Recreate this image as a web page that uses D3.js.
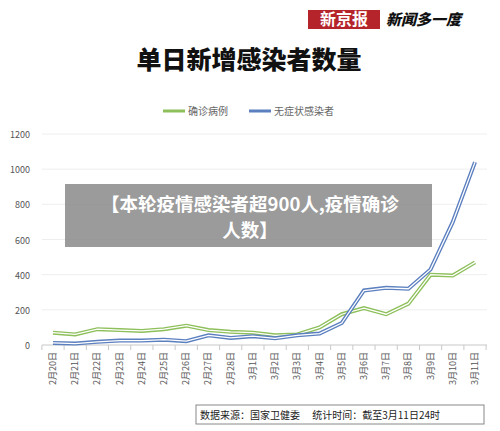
<!DOCTYPE html><html><head><meta charset="utf-8"><script src="https://cdn.jsdelivr.net/npm/d3@7"></script>
<style>body{margin:0;background:#fff}svg{font-family:"Noto Sans CJK SC",sans-serif}</style></head><body><svg width="500" height="431"></svg>
<script>
const categories=["2月20日","2月21日","2月22日","2月23日","2月24日","2月25日","2月26日","2月27日","2月28日","3月1日","3月2日","3月3日","3月4日","3月5日","3月6日","3月7日","3月8日","3月9日","3月10日","3月11日"];
const confirmed=[70,60,90,85,80,90,110,85,75,70,55,60,100,175,210,175,235,400,395,470];
const asymptomatic=[12,8,18,25,25,30,22,55,40,50,38,55,65,125,310,325,320,430,700,1040];
const yTicks=[0,200,400,600,800,1000,1200];
const svg=d3.select("svg");
const x=d3.scalePoint().domain(categories).range([53,475]);
const y=d3.scaleLinear().domain([0,1200]).range([345,134]);
svg.append("g").selectAll("line").data(yTicks.slice(1)).join("line").attr("x1",42).attr("x2",487).attr("y1",d=>y(d)).attr("y2",d=>y(d)).attr("stroke","#eeeeee");
svg.append("line").attr("x1",42).attr("x2",487).attr("y1",345).attr("y2",345).attr("stroke","#c8c8c8");
const step=x.step();
svg.append("g").selectAll("line").data(d3.range(categories.length+1)).join("line").attr("x1",d=>53-step/2+d*step).attr("x2",d=>53-step/2+d*step).attr("y1",345).attr("y2",350).attr("stroke","#c8c8c8");
svg.append("g").selectAll("text").data(yTicks).join("text").attr("x",30).attr("y",d=>y(d)+4).attr("text-anchor","end").attr("font-size",9).attr("fill","#555").text(d=>d);
svg.append("g").selectAll("text").data(categories).join("text").attr("transform",d=>`translate(${x(d)+3},${352}) rotate(-90)`).attr("text-anchor","end").attr("font-size",9).attr("fill","#555").text(d=>d);
const line=d3.line().x((d,i)=>x(categories[i])).y(d=>y(d));
[[confirmed,"#8dbf5a"],[asymptomatic,"#5b7fbf"]].forEach(([s,c])=>{
 svg.append("path").attr("d",line(s)).attr("fill","none").attr("stroke",c).attr("stroke-width",4);
 svg.append("path").attr("d",line(s)).attr("fill","none").attr("stroke","#fff").attr("stroke-width",1.3);
});
[[163,"#8dbf5a","确诊病例"],[249,"#5b7fbf","无症状感染者"]].forEach(([lx,c,t])=>{
 svg.append("line").attr("x1",lx).attr("x2",lx+22).attr("y1",111).attr("y2",111).attr("stroke",c).attr("stroke-width",3);
 svg.append("text").attr("x",lx+25).attr("y",115).attr("font-size",10).attr("fill","#666").text(t);
});
svg.append("text").attr("x",249).attr("y",69).attr("text-anchor","middle").attr("font-size",25).attr("font-weight",900).attr("fill","#111").text("单日新增感染者数量");
svg.append("rect").attr("x",308).attr("y",10).attr("width",72).attr("height",19).attr("fill","#b5242b");
svg.append("text").attr("x",344).attr("y",25).attr("text-anchor","middle").attr("font-size",16).attr("font-weight",700).attr("fill","#fff").text("新京报");
svg.append("text").attr("x",386).attr("y",25).attr("font-size",15).attr("font-weight",900).attr("font-style","italic").attr("fill","#111").text("新闻多一度");
svg.append("rect").attr("x",65).attr("y",184).attr("width",367).attr("height",63).attr("fill","#8a8a8a").attr("opacity",0.85);
svg.append("text").attr("x",250).attr("y",211).attr("text-anchor","middle").attr("font-size",18.5).attr("font-weight",700).attr("fill","#fff").text("【本轮疫情感染者超900人,疫情确诊");
svg.append("text").attr("x",250).attr("y",237).attr("text-anchor","middle").attr("font-size",18.5).attr("font-weight",700).attr("fill","#fff").text("人数】");
svg.append("rect").attr("x",196).attr("y",405).attr("width",288).attr("height",19).attr("fill","none").attr("stroke","#888");
svg.append("text").attr("x",200).attr("y",419).attr("font-size",10).attr("fill","#222").text("数据来源：国家卫健委　 统计时间：截至3月11日24时");
</script></body></html>
